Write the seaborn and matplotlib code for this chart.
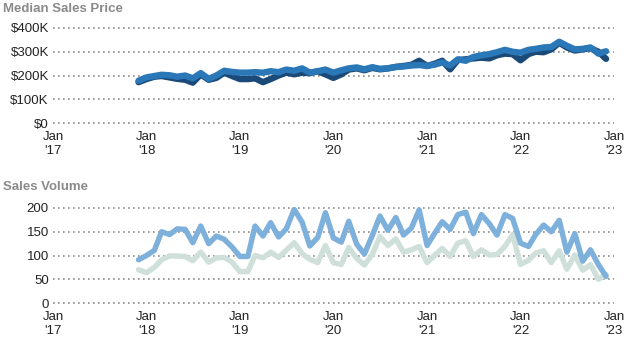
import matplotlib
matplotlib.use("Agg")
import matplotlib.pyplot as plt
import matplotlib.dates as mdates
import seaborn as sns
import pandas as pd
import numpy as np

# ---------------- data ----------------
months = pd.date_range("2017-12-01", "2022-12-01", freq="MS")

price_dark = [172, 185, 195, 198, 192, 186, 182, 170, 205, 182, 190, 212, 198,
              185, 185, 188, 172, 185, 200, 212, 205, 212, 210, 218, 205,
              190, 205, 225, 230, 222, 232, 226, 230, 236, 240, 245, 262,
              240, 250, 262, 226, 265, 268, 272, 275, 272, 285, 292, 290,
              264, 290, 300, 298, 310, 338, 318, 305, 310, 315, 300, 270]
price_mid = [178, 192, 198, 203, 201, 195, 200, 188, 210, 186, 200, 220, 215,
             212, 212, 214, 212, 218, 214, 225, 220, 230, 212, 218, 225,
             212, 222, 230, 234, 226, 235, 228, 230, 236, 238, 242, 244,
             240, 246, 255, 242, 268, 262, 278, 285, 290, 298, 308, 300,
             296, 308, 312, 318, 320, 342, 325, 310, 312, 318, 292, 302]

vol_light = [70, 64, 75, 91, 99, 99, 98, 89, 107, 86, 95, 96, 86,
             66, 66, 100, 95, 107, 96, 111, 127, 104, 92, 85, 121,
             85, 81, 117, 94, 80, 102, 140, 121, 135, 107, 112, 119,
             85, 101, 115, 98, 126, 131, 98, 112, 101, 102, 119, 144,
             81, 90, 105, 110, 85, 110, 71, 101, 69, 81, 50, 60]
vol_blue = [91, 100, 111, 150, 144, 156, 155, 127, 162, 125, 141, 134, 118,
            98, 98, 162, 141, 169, 139, 156, 197, 170, 120, 138, 190,
            137, 128, 172, 124, 103, 142, 183, 153, 180, 143, 158, 196,
            121, 148, 171, 155, 186, 191, 146, 186, 167, 143, 186, 178,
            126, 119, 144, 164, 150, 174, 107, 146, 88, 112, 81, 56]

year_ticks = ["2017", "2018", "2019", "2020", "2021", "2022", "2023"]
year_labels = ["Jan\n'17", "Jan\n'18", "Jan\n'19", "Jan\n'20", "Jan\n'21", "Jan\n'22", "Jan\n'23"]
price_ticks = [0, 100000, 200000, 300000, 400000]
price_labels = ["$0", "$100K", "$200K", "$300K", "$400K"]
vol_ticks = [0, 50, 100, 150, 200]
vol_labels = ["0", "50", "100", "150", "200"]

price_df = pd.concat([
    pd.DataFrame({"date": months, "value": np.array(price_dark) * 1000, "series": "A"}),
    pd.DataFrame({"date": months, "value": np.array(price_mid) * 1000, "series": "B"}),
])
vol_df = pd.concat([
    pd.DataFrame({"date": months, "value": vol_light, "series": "A"}),
    pd.DataFrame({"date": months, "value": vol_blue, "series": "B"}),
])

# ---------------- style ----------------
sns.set_style("white")
plt.rcParams["font.family"] = ["Liberation Sans", "DejaVu Sans"]

fig = plt.figure(figsize=(6.33, 3.5), dpi=100)
ax1 = fig.add_axes([53 / 633, 1 - 124 / 350, 561 / 633, 97 / 350])
ax2 = fig.add_axes([53 / 633, 1 - 304 / 350, 561 / 633, 97 / 350])

sns.lineplot(data=price_df, x="date", y="value", hue="series",
             palette={"A": "#1b4a78", "B": "#2b78b9"}, linewidth=4.6,
             legend=False, ax=ax1)
sns.lineplot(data=vol_df, x="date", y="value", hue="series",
             palette={"A": "#cfe0db", "B": "#7eb0dc"}, linewidth=3.9,
             legend=False, ax=ax2)

xt = [pd.Timestamp(f"{y}-01-01") for y in year_ticks]
for ax, yt, yl, ymax in [(ax1, price_ticks, price_labels, 400000),
                         (ax2, vol_ticks, vol_labels, 200)]:
    pad = ymax * 0.01
    ax.set_ylim(-pad, ymax + pad)
    ax.set_xlim(xt[0], xt[-1])
    ax.set_yticks(yt)
    ax.set_yticklabels(yl)
    ax.set_xticks(xt)
    ax.set_xticklabels(year_labels, linespacing=1.25)
    ax.set_xlabel("")
    ax.set_ylabel("")
    for s in ax.spines.values():
        s.set_visible(False)
    ax.grid(False)
    for v in yt:
        ax.axhline(v, color="#8c8c8c", linestyle=(0, (1, 2)), linewidth=1.2, zorder=0)
    ax.tick_params(axis="both", length=0, labelsize=9.5, colors="#222222")
    ax.tick_params(axis="x", pad=5)
    ax.tick_params(axis="y", pad=3)

fig.text(3 / 633, 1 - 9 / 350, "Median Sales Price", fontsize=9.5, fontweight="bold",
         color="#8a8a8a", va="center", ha="left")
fig.text(3 / 633, 1 - 187 / 350, "Sales Volume", fontsize=9.5, fontweight="bold",
         color="#8a8a8a", va="center", ha="left")

fig.savefig("out.png", dpi=100)
